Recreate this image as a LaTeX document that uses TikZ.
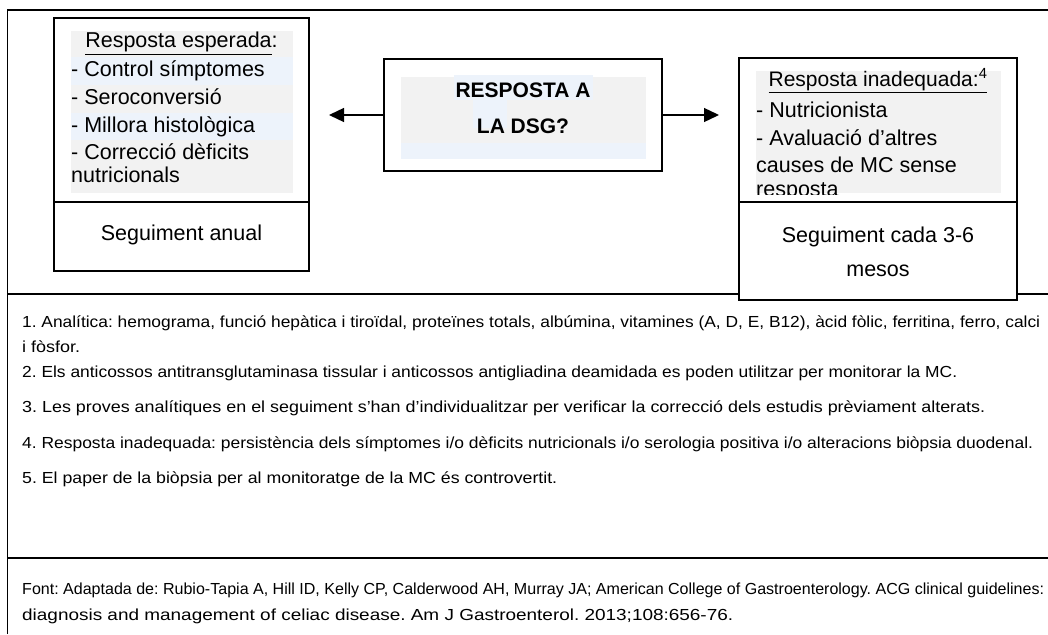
\documentclass[tikz,border=0pt]{standalone}
\usepackage{fontspec}
\setmainfont{Liberation Sans}
\usetikzlibrary{arrows.meta}
\definecolor{fonsgris}{HTML}{F2F2F2}
\definecolor{fonsblau}{HTML}{EDF3FB}
\newcommand{\ampla}[2]{\resizebox{#1pt}{\height}{#2}}
\tikzstyle{caixa} = [draw, line width=1.3pt, fill=white, inner sep=0pt]
\tikzstyle{arrow} = [line width=1.3pt,-{Triangle[length=15pt,width=14pt]}]
\tikzstyle{linia} = [anchor=base west, inner sep=0pt, font=\fontsize{21.5}{25}\selectfont]
\tikzstyle{centre} = [anchor=base, inner sep=0pt, font=\fontsize{21.5}{25}\selectfont]
\tikzstyle{nota} = [anchor=base west, inner sep=0pt, font=\fontsize{16}{19}\selectfont]

\begin{document}
\frenchspacing
\begin{tikzpicture}[x=1pt,y=-1pt]
	\useasboundingbox (0,0) rectangle (1048,634);
	% marc
	\draw[line width=1.3pt] (7.5,634) -- (7.5,10) -- (1048,10);
	\draw[line width=1.3pt] (7.5,294) -- (1048,294);
	\draw[line width=1.3pt] (7.5,558) -- (1048,558);
	% caixes
	\node[caixa, minimum width=255, minimum height=184] (esperada) at (181.5,110) {};
	\node[caixa, minimum width=255, minimum height=69] (anual) at (181.5,236.5) {};
	\node[caixa, minimum width=278, minimum height=112] (dsg) at (523,115) {};
	\node[caixa, minimum width=278, minimum height=144] (inadequada) at (878,130) {};
	\node[caixa, minimum width=278, minimum height=98] (mesos) at (878,251) {};
	% fons
	\fill[fonsgris] (71,31) rectangle (293,193);
	\fill[fonsblau] (71,57) rectangle (293,85);
	\fill[fonsblau] (71,113) rectangle (293,140);
	\fill[fonsgris] (401,77) rectangle (646,159);
	\fill[fonsblau] (401,143) rectangle (646,159);
	\fill[fonsblau] (454,75) rectangle (593,100);
	\fill[fonsblau] (473,100) rectangle (507,128);
	\fill[fonsgris] (756,71) rectangle (1001,193);
	% textos
	\node[centre] (titolesp) at (181.5,48) {\underline{Resposta esperada}:};
	\node[linia] (esp1) at (71,76) {- Control símptomes};
	\node[linia] (esp2) at (71,104) {- Seroconversió};
	\node[linia] (esp3) at (71,132) {- Millora histològica};
	\node[linia] (esp4) at (71,159) {- Correcció dèficits};
	\node[linia] (esp5) at (71,182) {nutricionals};
	\node[centre] (txtanual) at (181.5,240.5) {Seguiment anual};
	\node[centre, font=\fontsize{21}{25}\selectfont\bfseries] (dsg1) at (523,97) {RESPOSTA A};
	\node[centre, font=\fontsize{21}{25}\selectfont\bfseries] (dsg2) at (523,133) {LA DSG?};
	\begin{scope}
		\clip (756,65) rectangle (1001,194);
		\node[centre, font=\fontsize{21}{25}\selectfont] (titolinad) at (878,86) {\underline{Resposta inadequada:\textsuperscript{4}}};
		\node[linia] (inad1) at (756,117) {- Nutricionista};
		\node[linia] (inad2) at (756,145) {- Avaluació d’altres};
		\node[linia] (inad3) at (756,172) {causes de MC sense};
		\node[linia] (inad4) at (756,196) {resposta};
	\end{scope}
	\node[centre] (txtmesos1) at (878,242) {Seguiment cada 3-6};
	\node[centre] (txtmesos2) at (878,276) {mesos};
	% fletxes
	\coordinate (fesq) at (329,115);
	\coordinate (fdre) at (719,115);
	\draw [arrow] (dsg.west) -- (fesq);
	\draw [arrow] (dsg.east) -- (fdre);
	% notes
	\node[nota] (nota1) at (22,327) {\ampla{1018}{1. Analítica: hemograma, funció hepàtica i tiroïdal, proteïnes totals, albúmina, vitamines (A, D, E, B12), àcid fòlic, ferritina, ferro, calci}};
	\node[nota] (nota1b) at (22,352) {\ampla{58}{i fòsfor.}};
	\node[nota] (nota2) at (22,377) {\ampla{935}{2. Els anticossos antitransglutaminasa tissular i anticossos antigliadina deamidada es poden utilitzar per monitorar la MC.}};
	\node[nota] (nota3) at (22,412) {\ampla{963}{3. Les proves analítiques en el seguiment s’han d’individualitzar per verificar la correcció dels estudis prèviament alterats.}};
	\node[nota] (nota4) at (22,448) {\ampla{1011}{4. Resposta inadequada: persistència dels símptomes i/o dèficits nutricionals i/o serologia positiva i/o alteracions biòpsia duodenal.}};
	\node[nota] (nota5) at (22,483) {\ampla{535}{5. El paper de la biòpsia per al monitoratge de la MC és controvertit.}};
	\node[nota] (font1) at (22,594) {\ampla{1022}{Font: Adaptada de: Rubio-Tapia A, Hill ID, Kelly CP, Calderwood AH, Murray JA; American College of Gastroenterology. ACG clinical guidelines:}};
	\node[nota] (font2) at (22,620) {\ampla{711}{diagnosis and management of celiac disease. Am J Gastroenterol. 2013;108:656-76.}};
\end{tikzpicture}
\end{document}
